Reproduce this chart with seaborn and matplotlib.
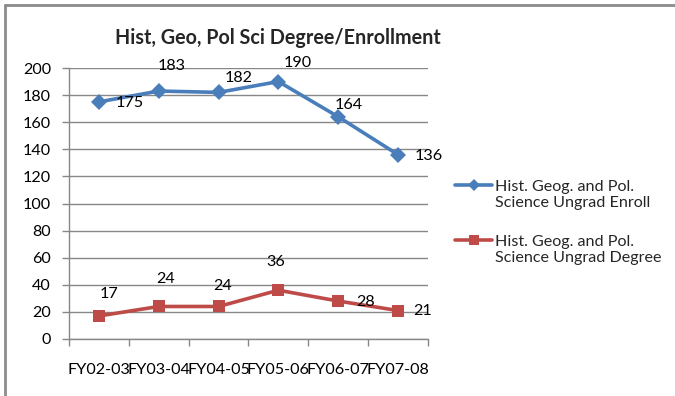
import matplotlib
matplotlib.use("Agg")
import matplotlib.pyplot as plt
from matplotlib.lines import Line2D
import seaborn as sns
import pandas as pd
import numpy as np

years = ["FY02-03", "FY03-04", "FY04-05", "FY05-06", "FY06-07", "FY07-08"]
enroll = [175, 183, 182, 190, 164, 136]
degree = [17, 24, 24, 36, 28, 21]
series_names = ["Hist. Geog. and Pol.\nScience Ungrad Enroll",
                "Hist. Geog. and Pol.\nScience Ungrad Degree"]
yticks = list(range(0, 201, 20))

sns.set_theme(style="white")
plt.rcParams["font.family"] = ["Lato", "DejaVu Sans"]

blue = "#4A7EBB"
red = "#BE4B48"
grid = "#878787"
fs = 11.6

df = pd.DataFrame({
    "pos": list(range(len(years))) * 2,
    "value": enroll + degree,
    "series": [series_names[0]] * len(years) + [series_names[1]] * len(years),
})

W, H = 675, 396
fig = plt.figure(figsize=(W / 100, H / 100), dpi=100)
ax = fig.add_axes([69 / W, 1 - 339 / H, (428 - 69) / W, (339 - 68) / H])

sns.lineplot(data=df, x="pos", y="value", hue="series", style="series",
             palette=[blue, red], markers=["D", "s"], dashes=False,
             linewidth=2.6, markersize=8, markeredgewidth=0, ax=ax, legend=False)

ax.set_xlim(-0.5, len(years) - 0.5)
ax.set_ylim(0, 200)
ax.set_yticks(yticks)
ax.yaxis.grid(True, color=grid, linewidth=1)
ax.set_axisbelow(True)
ax.set_xlabel("")
ax.set_ylabel("")

# category labels sit between the boundary tick marks
ax.set_xticks(np.arange(-0.5, len(years), 1.0))
ax.set_xticklabels([])
ax.set_xticks(np.arange(len(years)), minor=True)
ax.set_xticklabels(years, minor=True)
ax.tick_params(axis="x", which="major", direction="out", length=5, color=grid, width=1, bottom=True)
ax.tick_params(axis="x", which="minor", length=0, pad=17, labelsize=fs, labelcolor="black")
ax.tick_params(axis="y", direction="out", length=5, color=grid, width=1, left=True,
               labelsize=fs, labelcolor="black", pad=8)

for side in ["top", "right"]:
    ax.spines[side].set_visible(False)
for side in ["left", "bottom"]:
    ax.spines[side].set_color(grid)
    ax.spines[side].set_linewidth(1)

# value labels, offsets in pixels from each point
enroll_off = [(31, -1), (13, 25), (20, 14), (19, 19), (11, 12), (31, -1)]
degree_off = [(10, 22), (7, 27), (4, 20), (-3, 28), (27, -1), (25, 0)]
for i, (v, off) in enumerate(zip(enroll, enroll_off)):
    ax.annotate(str(v), (i, v), xytext=off, textcoords="offset pixels",
                ha="center", va="center", fontsize=fs, color="black")
for i, (v, off) in enumerate(zip(degree, degree_off)):
    ax.annotate(str(v), (i, v), xytext=off, textcoords="offset pixels",
                ha="center", va="center", fontsize=fs, color="black")

fig.text(278 / W, 1 - 38 / H, "Hist, Geo, Pol Sci Degree/Enrollment",
         ha="center", va="center", fontsize=14.2, fontweight="bold")

# legend: handle aligned with the first line of each two-line entry
legend_rows = [(185, blue, "D", 6), (240, red, "s", 7.5)]
for (ypix, color, marker, ms), name in zip(legend_rows, series_names):
    yf = 1 - ypix / H
    fig.add_artist(Line2D([455 / W, 492 / W], [yf, yf], color=color, linewidth=2.6,
                          transform=fig.transFigure))
    fig.add_artist(Line2D([473.5 / W], [yf], color=color, marker=marker, markersize=ms,
                          markeredgewidth=0, linestyle="none", transform=fig.transFigure))
    fig.text(495 / W, 1 - (ypix + 10) / H, name, ha="left", va="center",
             fontsize=fs, linespacing=1.25)

# chart-area border (top and left edges)
fig.add_artist(Line2D([5 / W, 1], [1 - 5 / H, 1 - 5 / H], color="#8c8c8c", linewidth=2,
                      transform=fig.transFigure))
fig.add_artist(Line2D([5 / W, 5 / W], [0, 1 - 5 / H], color="#8c8c8c", linewidth=2,
                      transform=fig.transFigure))

fig.savefig("out.png", dpi=100)
